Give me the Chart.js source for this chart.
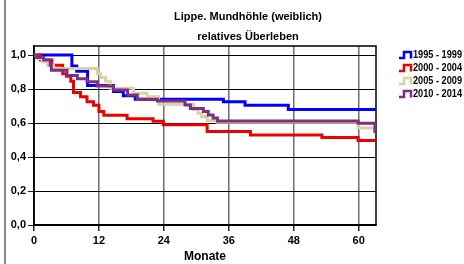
<!DOCTYPE html>
<html>
<head>
<meta charset="utf-8">
<script src="https://cdn.jsdelivr.net/npm/chart.js@4.4.1/dist/chart.umd.min.js"></script>
<style>
  body { margin: 0; background: #fff; }
  #wrap { position: relative; width: 464px; height: 264px; }
  #frame { position: absolute; left: 4px; top: 0; width: 2px; height: 264px; background: #8a8a8a; }
</style>
</head>
<body>
<div id="wrap">
  <canvas id="km" width="464" height="264"></canvas>
  <div id="frame"></div>
</div>
<script>
// Titel und Achsen
const titleLines = ["Lippe. Mundhöhle (weiblich)", "relatives Überleben"];
const xTitle = "Monate";
const xTicks = [0, 12, 24, 36, 48, 60];
const yTicks = [0, 0.2, 0.4, 0.6, 0.8, 1.0];

// Zeiträume (Legende)
const periods = ["1995 - 1999", "2000 - 2004", "2005 - 2009", "2010 - 2014"];
const colors = ["#0000ff", "#ee0000", "#d8d2a4", "#7b2f85"];

// Kurven: Monat, ab dem der Wert gilt
const months1995 = [0, 7, 7.9, 9.9, 14.7, 16.5, 18.7, 35, 39, 47, 63.2];
const values1995 = [1.0, 0.935, 0.905, 0.82, 0.785, 0.76, 0.74, 0.725, 0.705, 0.68, 0.68];

const months2000 = [0, 1.2, 3.3, 5.3, 6, 6.8, 7.3, 8.6, 9.8, 11, 12, 12.9, 17.2, 22, 23.9, 32, 40, 53.2, 59.9, 63.2];
const values2000 = [1.0, 0.97, 0.94, 0.89, 0.875, 0.845, 0.78, 0.755, 0.725, 0.705, 0.667, 0.645, 0.625, 0.61, 0.59, 0.55, 0.53, 0.515, 0.497, 0.497];

const months2005 = [0, 0.5, 1.5, 2.5, 3.6, 11.7, 12.3, 13.2, 14.1, 18.4, 20.9, 23, 29.5, 30.3, 31, 32, 33.8, 59.9, 63.2];
const values2005 = [1.0, 0.98, 0.96, 0.94, 0.92, 0.89, 0.867, 0.845, 0.805, 0.775, 0.755, 0.71, 0.68, 0.657, 0.637, 0.615, 0.604, 0.57, 0.57];

const months2010 = [0, 0.5, 1.8, 3, 3.2, 6.1, 8, 9.8, 11.7, 14.7, 17.3, 19.1, 22.8, 27.9, 28.9, 31.3, 32.2, 33.1, 33.9, 59.9, 63, 63.2];
const values2010 = [1.0, 0.985, 0.97, 0.94, 0.91, 0.88, 0.86, 0.843, 0.818, 0.794, 0.765, 0.74, 0.73, 0.706, 0.686, 0.667, 0.647, 0.63, 0.612, 0.598, 0.55, 0.55];

const seriesMonths = [months1995, months2000, months2005, months2010];
const seriesValues = [values1995, values2000, values2005, values2010];

const datasets = periods.map((label, i) => ({
  label: label,
  data: seriesMonths[i].map((m, j) => ({ x: m, y: seriesValues[i][j] })),
  borderColor: colors[i],
  borderWidth: 3,
  stepped: true,
  pointRadius: 0,
  fill: false,
  order: periods.length - i, // lila oben
}));

// Titel ueber Diagramm + Legende
const titlePlugin = {
  id: "titleText",
  afterDraw(chart) {
    const ctx = chart.ctx;
    ctx.save();
    ctx.fillStyle = "#000";
    ctx.font = "bold 11px Arial";
    ctx.textAlign = "center";
    ctx.textBaseline = "middle";
    ctx.fillText(titleLines[0], 248, 17);
    ctx.fillText(titleLines[1], 248, 37);
    ctx.restore();
  },
};

// Legende mit Stufen-Symbol
const legendPlugin = {
  id: "stepLegend",
  afterDraw(chart) {
    const ctx = chart.ctx;
    ctx.save();
    chart.data.datasets.forEach((ds, i) => {
      const y = 55 + i * 13;
      ctx.strokeStyle = ds.borderColor;
      ctx.lineWidth = 2.5;
      ctx.beginPath();
      ctx.moveTo(399, y + 3);
      ctx.lineTo(404, y + 3);
      ctx.lineTo(404, y - 3);
      ctx.lineTo(411, y - 3);
      ctx.lineTo(411, y + 3.5);
      ctx.stroke();
      ctx.fillStyle = "#000";
      ctx.font = "bold 10px Arial";
      ctx.textAlign = "left";
      ctx.textBaseline = "middle";
      ctx.fillText(ds.label, 413, y, 49);
    });
    ctx.restore();
  },
};

// Rahmen um Zeichenflaeche
const framePlugin = {
  id: "plotFrame",
  beforeDatasetsDraw(chart) {
    const a = chart.chartArea;
    const ctx = chart.ctx;
    ctx.save();
    ctx.strokeStyle = "#000";
    ctx.lineWidth = 1.5;
    ctx.strokeRect(a.left, a.top, a.right - a.left, a.bottom - a.top);
    ctx.restore();
  },
};

new Chart(document.getElementById("km"), {
  type: "line",
  data: { datasets: datasets },
  plugins: [titlePlugin, legendPlugin, framePlugin],
  options: {
    responsive: false,
    animation: false,
    layout: { padding: { top: 46, right: 88, left: 0, bottom: 0 } },
    plugins: {
      legend: { display: false },
      title: { display: false },
      tooltip: { enabled: false },
    },
    scales: {
      x: {
        type: "linear",
        min: 0,
        max: 63.2,
        afterBuildTicks: (s) => { s.ticks = xTicks.map((v) => ({ value: v })); },
        afterFit: (s) => { s.height = 39; },
        ticks: {
          color: "#000",
          font: { family: "Arial", size: 11, weight: "bold" },
          padding: 3,
          maxRotation: 0,
          autoSkip: false,
        },
        grid: { color: "#6e6e6e", lineWidth: 1.5, tickLength: 6, tickColor: "#222" },
        border: { color: "#000", width: 1.5 },
        title: {
          display: true,
          text: xTitle,
          color: "#000",
          font: { family: "Arial", size: 12, weight: "bold" },
          padding: { top: 1, bottom: 0 },
        },
      },
      y: {
        min: 0,
        max: 1.053,
        afterBuildTicks: (s) => { s.ticks = yTicks.map((v) => ({ value: v })); },
        afterFit: (s) => { s.width = 34; },
        ticks: {
          color: "#000",
          font: { family: "Arial", size: 11, weight: "bold" },
          padding: 2,
          callback: (v) => v.toFixed(1).replace(".", ","),
        },
        grid: { color: "#000", lineWidth: 1, tickLength: 6, tickColor: "#222" },
        border: { color: "#000", width: 1.5 },
      },
    },
  },
});
</script>
</body>
</html>
